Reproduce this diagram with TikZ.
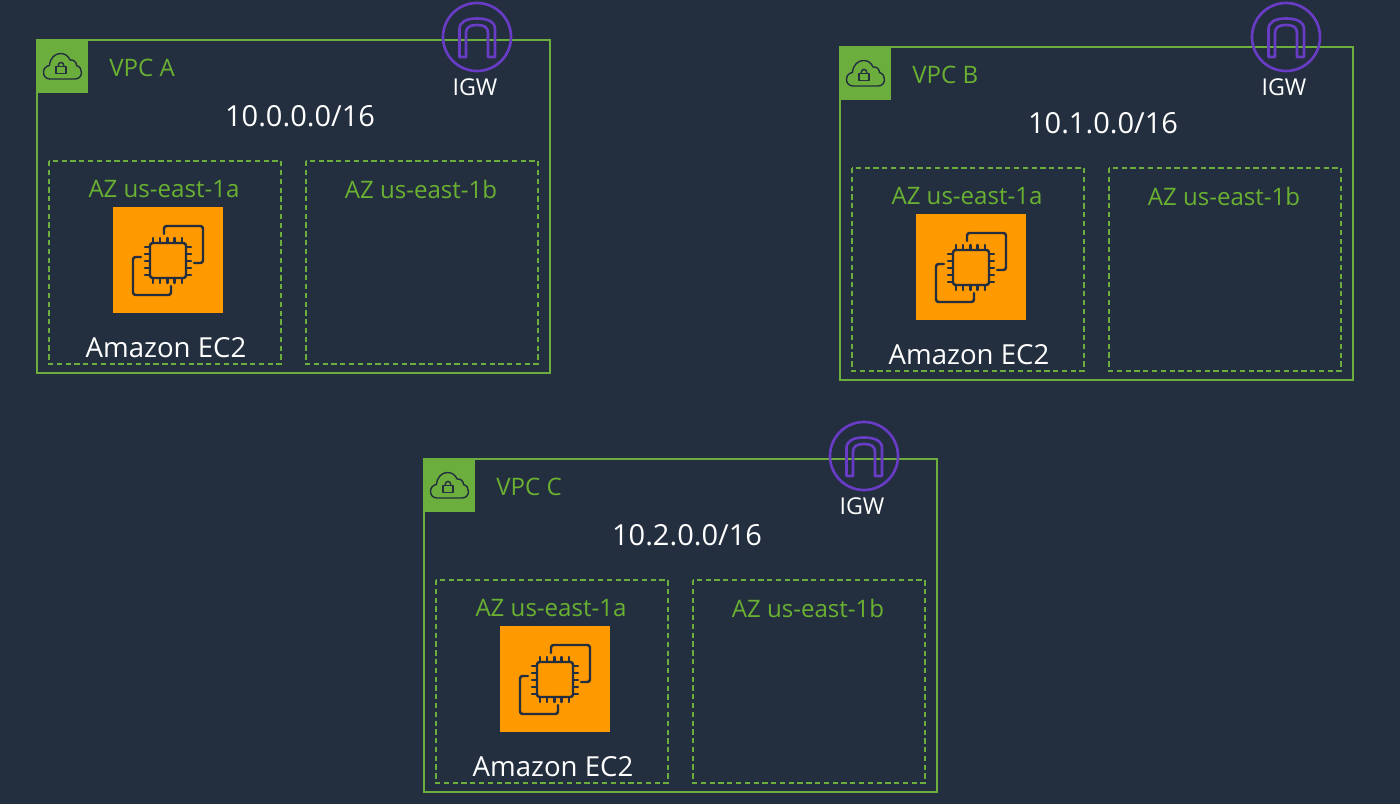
\documentclass[tikz,border=0pt]{standalone}
\usepackage{fontspec}
\setmainfont{Open Sans}
\definecolor{bgdark}{HTML}{232F3E}
\definecolor{vpcgreen}{HTML}{6CAE3E}
\definecolor{labelgreen}{HTML}{6AB032}
\definecolor{igwpurple}{HTML}{693CC5}
\definecolor{ectile}{HTML}{FF9900}
\tikzset{
	vpcbox/.style={draw=vpcgreen, line width=0.7pt},
	azbox/.style={draw=vpcgreen, line width=0.6pt, dash pattern=on 3pt off 2pt},
	greentext/.style={text=labelgreen, font=\fontsize{13.7}{16}\selectfont, inner sep=0pt},
	cidrtext/.style={text=white, font=\fontsize{16.5}{19}\selectfont, inner sep=0pt},
	ectext/.style={text=white, font=\fontsize{15.7}{18}\selectfont, inner sep=0pt},
	igwtext/.style={text=white, font=\fontsize{13.2}{15}\selectfont, inner sep=0pt},
	icon/.style={draw=bgdark, line width=1.4pt, line join=round, line cap=round},
	cloudicon/.style={draw=bgdark, line width=0.8pt, line join=round, line cap=round},
	igwline/.style={draw=igwpurple, line width=1.5pt, line join=round}
}
\begin{document}
\begin{tikzpicture}[x=0.02cm, y=-0.02cm]
	% Background
	\fill[bgdark] (0,0) rectangle (1400,804);

	% One block for each VPC
	\foreach \vpcname/\cidr/\sx/\sy/\gx/\gy in {A/{10.0.0.0/16}/0/0/0/0, B/{10.1.0.0/16}/803/7/6/-7, C/{10.2.0.0/16}/387/419/0/0} {
		\begin{scope}[shift={(\sx,\sy)}]
			% Boxes
			\draw[vpcbox] (37,40) rectangle (550,373);
			\draw[azbox] (49,161) rectangle (281,364);
			\draw[azbox] (306,161) rectangle (538,364);

			% Cloud tile
			\fill[vpcgreen] (36.5,39.5) rectangle (88,93);
			\draw[cloudicon] (50,79) .. controls (46,79) and (43.5,76) .. (43.5,72.5)
				.. controls (43.5,68.5) and (46,66) .. (49.5,65.5)
				.. controls (50,58) and (55,53.5) .. (60.5,53.5)
				.. controls (65,53.5) and (68.5,56) .. (70,60)
				.. controls (74,59.5) and (76.5,62.5) .. (76.5,65.5)
				.. controls (80,66.5) and (81.5,69.5) .. (81.5,72.5)
				.. controls (81.5,76) and (79,79) .. (75,79) -- cycle;
			\draw[cloudicon] (56,66.5) rectangle (66,73.5);
			\draw[cloudicon] (58,66.5) .. controls (58,61) and (64,61) .. (64,66.5);

			% Orange tile with the chip
			\fill[ectile] (113,207) rectangle (222.5,313);
			\draw[icon, rounded corners=1.5pt] (164,234) -- (164,226) -- (203,226) -- (203,263) -- (194,263);
			\draw[icon, rounded corners=1.5pt] (141,257) -- (133,257) -- (133,295) -- (171,295) -- (171,286);
			\draw[icon, rounded corners=1.5pt] (150,243) rectangle (186,278);
			\foreach \pin in {0,...,4} {
				\draw[icon] (153+7.2*\pin,238) -- (153+7.2*\pin,243);
				\draw[icon] (153+7.2*\pin,278) -- (153+7.2*\pin,283);
				\draw[icon] (145,247+7*\pin) -- (150,247+7*\pin);
				\draw[icon] (186,247+7*\pin) -- (191,247+7*\pin);
			}

			% Internet gateway
			\begin{scope}[shift={(\gx,\gy)}]
				\draw[igwline] (477,37) circle (34);
				\draw[igwline] (459.5,57) -- (459.5,29) .. controls (459.5,22) and (466,18.5) .. (477,18.5)
					.. controls (488,18.5) and (495,22) .. (495,29) -- (495,57) -- (488,57) -- (488,33)
					.. controls (488,27) and (484,25) .. (477,25)
					.. controls (470,25) and (466,27) .. (466,33) -- (466,57) -- cycle;
				\node[igwtext] (igw\vpcname) at (475,87) {IGW};
			\end{scope}

			% Labels
			\node[greentext, anchor=base west] (vpc\vpcname) at (109,76.5) {VPC \vpcname};
			\node[cidrtext] (cidr\vpcname) at (300,116) {\cidr};
			\node[greentext] (azleft\vpcname) at (164,189) {AZ us-east-1a};
			\node[greentext] (azright\vpcname) at (421,189) {AZ us-east-1b};
			\node[ectext] (ec\vpcname) at (166,347.5) {Amazon EC2};
		\end{scope}
	}
\end{tikzpicture}
\end{document}
